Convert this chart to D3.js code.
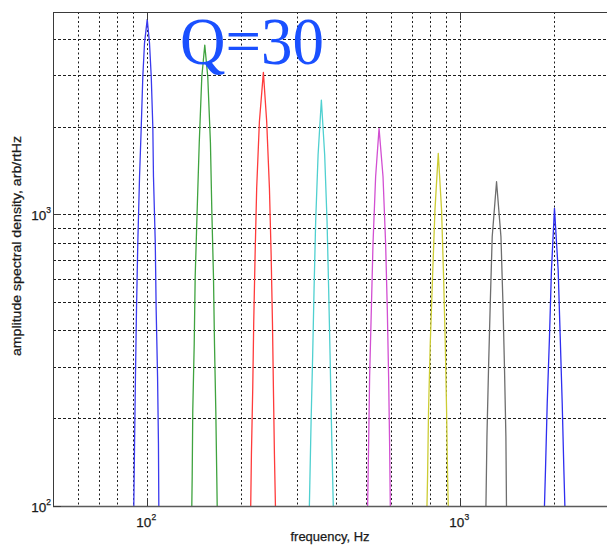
<!DOCTYPE html>
<html>
<head>
<meta charset="utf-8">
<script src="https://cdn.jsdelivr.net/npm/d3@7"></script>
<style>
  html, body { margin: 0; padding: 0; background: #fff; }
  svg { display: block; }
</style>
</head>
<body>
<svg id="chart" width="607" height="545"></svg>
<script>
// Resonance peaks (Q = 30): frequency in Hz and amplitude spectral density
const peakFreq1 = [90.6, 91.1, 91.7, 92.4, 93.3, 94.5, 95.7, 96.8, 98.0, 100.0, 101.7, 103.0, 104.2, 104.7, 106.1, 106.8, 107.9, 108.6, 108.9];
const peakAmp1  = [100, 164, 277, 470, 797, 1345, 1997, 2964, 3855, 4662, 3855, 2964, 1997, 1345, 797, 470, 277, 164, 100];

const peakFreq2 = [138.8, 139.2, 139.8, 141.3, 142.3, 144.4, 146.6, 149.4, 152.7, 156.1, 159.2, 160.8, 162.8, 164.0, 165.6, 166.8, 167.3];
const peakAmp2  = [100, 126, 213, 361, 611, 1034, 1752, 2963, 3805, 2963, 1752, 1034, 611, 361, 213, 126, 100];

const peakFreq3 = [214.1, 215.2, 217.3, 218.9, 221.1, 223.7, 228.2, 235.0, 240.8, 245.7, 248.8, 251.2, 253.0, 254.9, 256.8];
const peakAmp3  = [100, 150, 253, 428, 725, 1228, 2078, 3068, 2078, 1228, 725, 428, 253, 150, 100];

const peakFreq4 = [329.6, 333.8, 337.7, 341.2, 345.2, 351.4, 360.0, 368.9, 375.4, 379.8, 383.8, 387.5, 393.0];
const peakAmp4  = [100, 195, 329, 557, 943, 1597, 2465, 1597, 943, 557, 329, 195, 100];

const peakFreq5 = [506, 509.7, 513.4, 519.9, 526.4, 536.6, 550.3, 566.6, 577.5, 584.8, 590.4, 594.7, 597.8];
const peakAmp5  = [100, 164, 277, 470, 796, 1345, 1971, 1345, 796, 470, 277, 164, 100];

const peakFreq6 = [782.8, 786.3, 792, 802, 815.7, 830.2, 850.7, 871.6, 884.6, 895.7, 904.3, 911, 915.7];
const peakAmp6  = [100, 126, 213, 361, 611, 1034, 1619, 1034, 611, 361, 213, 126, 100];

const peakFreq7 = [1208, 1217, 1231, 1247, 1265, 1306, 1349, 1369, 1385, 1399, 1405];
const peakAmp7  = [100, 173, 293, 495, 838, 1294, 838, 495, 293, 173, 100];

const peakFreq8 = [1858, 1872, 1896, 1928, 1956, 2000, 2055, 2086, 2117, 2143, 2159];
const peakAmp8  = [100, 133, 225, 381, 644, 1048, 644, 381, 225, 133, 100];

const peakColors = ["#3a3aee", "#3fa33f", "#ff3b3b", "#4fd0d0", "#d24fd2", "#cccc33", "#6e6e6e", "#2e2ef0"];

// Axis ranges and grid positions
const xDomain = [50, 3000];
const yDomain = [100, 4940];
const xGridValues = [60, 70, 80, 90, 100, 200, 300, 400, 500, 600, 700, 800, 900, 1000, 2000];
const yGridValues = [200, 300, 400, 500, 600, 700, 800, 900, 1000, 2000, 3000, 4000];
const xMajorTicks = [100, 1000];
const yMajorTicks = [100, 1000];

const annotation = "Q=30";
const xTitle = "frequency, Hz";
const yTitle = "amplitude spectral density, arb/rtHz";

(function drawChart() {
  const peaks = [
    [peakFreq1, peakAmp1], [peakFreq2, peakAmp2], [peakFreq3, peakAmp3], [peakFreq4, peakAmp4],
    [peakFreq5, peakAmp5], [peakFreq6, peakAmp6], [peakFreq7, peakAmp7], [peakFreq8, peakAmp8]
  ].map(([f, a], i) => ({ color: peakColors[i], points: f.map((v, j) => [v, a[j]]) }));

  const svg = d3.select("#chart");
  const plotLeft = 53, plotTop = 12, plotBottom = 506, plotRight = 609.6;

  const x = d3.scaleLog().domain(xDomain).range([plotLeft, plotRight]);
  const y = d3.scaleLog().domain(yDomain).range([plotBottom, plotTop]);

  svg.append("defs").append("clipPath").attr("id", "plot-clip")
    .append("rect").attr("x", plotLeft).attr("y", plotTop)
    .attr("width", plotRight - plotLeft).attr("height", plotBottom - plotTop);

  // Dashed grid
  const grid = svg.append("g").attr("stroke", "#1e1e1e").attr("stroke-width", 1).attr("fill", "none");
  grid.selectAll("line.v").data(xGridValues).join("line")
    .attr("class", "v")
    .attr("x1", d => Math.round(x(d)) + 0.5).attr("x2", d => Math.round(x(d)) + 0.5)
    .attr("y1", plotTop).attr("y2", plotBottom)
    .attr("stroke-dasharray", "2,2.5");
  grid.selectAll("line.h").data(yGridValues).join("line")
    .attr("class", "h")
    .attr("y1", d => Math.round(y(d)) + 0.5).attr("y2", d => Math.round(y(d)) + 0.5)
    .attr("x1", plotLeft).attr("x2", plotRight)
    .attr("stroke-dasharray", "3,2");

  // Peak curves
  const line = d3.line().x(d => x(d[0])).y(d => y(d[1]));
  svg.append("g").attr("clip-path", "url(#plot-clip)")
    .selectAll("path").data(peaks).join("path")
    .attr("d", d => line(d.points))
    .attr("fill", "none")
    .attr("stroke", d => d.color)
    .attr("stroke-width", 1.3)
    .attr("stroke-linejoin", "round");

  // Axes frame
  const frame = svg.append("g").attr("stroke", "#3a3a3a").attr("fill", "none");
  frame.append("line").attr("x1", plotLeft + 0.5).attr("x2", plotLeft + 0.5).attr("y1", plotTop).attr("y2", plotBottom);
  frame.append("line").attr("x1", plotLeft).attr("x2", plotRight).attr("y1", plotTop + 0.5).attr("y2", plotTop + 0.5);
  frame.append("line").attr("x1", plotLeft).attr("x2", plotRight).attr("y1", plotBottom + 0.5).attr("y2", plotBottom + 0.5)
    .attr("stroke", "#5a5a5a").attr("stroke-width", 1.6);

  // Major ticks, drawn inward
  const tickLen = 8;
  xMajorTicks.forEach(v => {
    const px = Math.round(x(v)) + 0.5;
    frame.append("line").attr("x1", px).attr("x2", px).attr("y1", plotBottom).attr("y2", plotBottom - tickLen);
    frame.append("line").attr("x1", px).attr("x2", px).attr("y1", plotTop).attr("y2", plotTop + tickLen);
  });
  yMajorTicks.forEach(v => {
    const py = Math.round(y(v)) + 0.5;
    frame.append("line").attr("y1", py).attr("y2", py).attr("x1", plotLeft).attr("x2", plotLeft + tickLen);
  });

  // Tick labels as 10 with a superscript exponent
  const labelFont = "'Liberation Sans', Arial, sans-serif";
  function powerLabel(g, v, px, py, anchor) {
    const t = g.append("text")
      .attr("x", px).attr("y", py)
      .attr("text-anchor", anchor)
      .attr("font-family", labelFont)
      .attr("font-size", 13.5)
      .attr("fill", "#1a1a1a")
      .attr("stroke", "#1a1a1a").attr("stroke-width", 0.25);
    t.append("tspan").text("10");
    t.append("tspan").attr("font-size", 8.5).attr("dy", -7).text(String(Math.round(Math.log10(v))));
  }
  const labels = svg.append("g");
  xMajorTicks.forEach(v => powerLabel(labels, v, x(v) - 1, 527, "middle"));
  yMajorTicks.forEach(v => powerLabel(labels, v, 51, y(v) + 6, "end"));

  // Axis titles
  svg.append("text")
    .attr("x", 330).attr("y", 541)
    .attr("text-anchor", "middle")
    .attr("font-family", labelFont).attr("font-size", 13)
    .attr("textLength", 79).attr("lengthAdjust", "spacingAndGlyphs")
    .attr("fill", "#1a1a1a")
    .attr("stroke", "#1a1a1a").attr("stroke-width", 0.25)
    .text(xTitle);

  svg.append("text")
    .attr("transform", "translate(21, 246) rotate(-90)")
    .attr("text-anchor", "middle")
    .attr("font-family", labelFont).attr("font-size", 12.5)
    .attr("textLength", 220).attr("lengthAdjust", "spacingAndGlyphs")
    .attr("fill", "#1a1a1a")
    .attr("stroke", "#1a1a1a").attr("stroke-width", 0.25)
    .text(yTitle);

  // Annotation
  svg.append("text")
    .attr("x", 180).attr("y", 63.5)
    .attr("font-family", "'Liberation Serif', 'Times New Roman', serif")
    .attr("font-size", 68)
    .attr("textLength", 144)
    .attr("lengthAdjust", "spacingAndGlyphs")
    .attr("fill", "#1a50ff")
    .text(annotation);
})();
</script>
</body>
</html>
